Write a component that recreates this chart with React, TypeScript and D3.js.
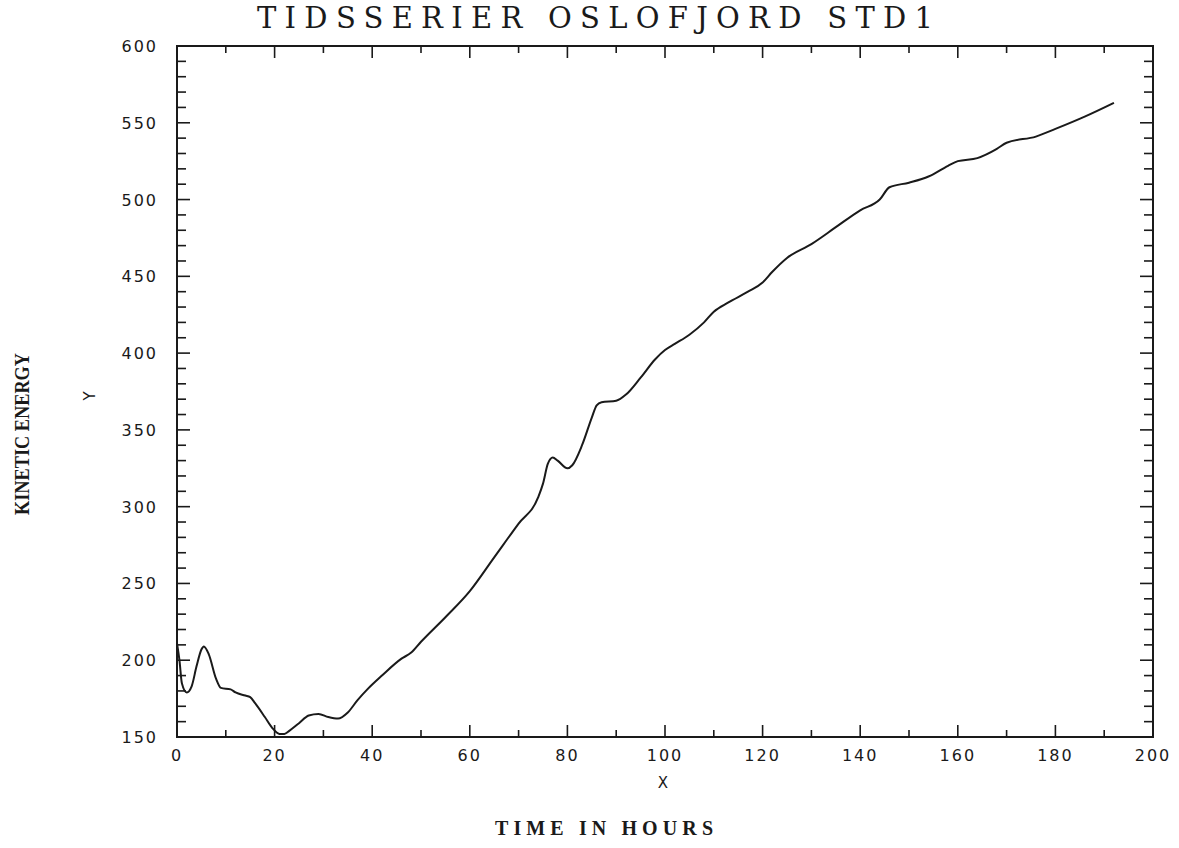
import React from "react";
import * as d3 from "d3";

const hours = [0, 0.5, 1, 2, 3, 4, 5, 5.5, 6.5, 8, 9, 11, 12, 14, 15, 16, 18, 19.5, 21, 22, 23, 25, 27, 29, 31, 33, 35, 37, 39, 42, 46, 48, 50, 55, 60, 65, 70, 74, 75, 76, 77, 78, 80, 81, 83, 85, 86, 87, 90, 92, 95, 98, 100, 102, 105, 108, 110, 113, 117, 120, 122, 125, 130, 135, 140, 144, 146, 150, 154, 158, 160, 164, 168, 170, 176, 180, 186, 192];
const energy = [211, 200, 185, 179, 183, 196, 207, 209, 204, 188, 182, 181, 179, 177, 176, 172, 163, 156, 152, 152, 154, 159, 164, 165, 163, 162, 166, 174, 181, 190, 201, 205, 212, 228, 245, 267, 289, 306, 315, 328, 332, 330, 325, 327, 340, 358, 366, 368, 369, 373, 384, 396, 402, 406, 412, 420, 427, 433, 440, 446, 453, 462, 471, 482, 493, 500, 508, 511, 515, 522, 525, 527, 533, 537, 541, 546, 554, 563];

const xTickLabels = [0, 20, 40, 60, 80, 100, 120, 140, 160, 180, 200];
const yTickLabels = [150, 200, 250, 300, 350, 400, 450, 500, 550, 600];

const titleText = "TIDSSERIER OSLOFJORD STD1";
const xAxisName = "X";
const yAxisName = "Y";
const xTitle = "TIME IN HOURS";
const yTitle = "KINETIC ENERGY";

export default function App() {
  const W = 1179, H = 848;
  const left = 177, right = 1153, top = 46, bottom = 737;
  const x = d3.scaleLinear().domain([0, 200]).range([left, right]);
  const y = d3.scaleLinear().domain([150, 600]).range([bottom, top]);
  const pts = hours.map((h, i) => [h, energy[i]] as [number, number]);
  const line = d3.line<[number, number]>().x(d => x(d[0])).y(d => y(d[1])).curve(d3.curveMonotoneX);

  const xMinor = d3.range(0, 201, 10);
  const yMinor = d3.range(150, 601, 10);
  const ink = "#1a1a1a";

  return (
    <svg width={W} height={H} style={{ position: "absolute", left: 0, top: 0, display: "block", background: "#fff" }}>
      <text x={595} y={28} textAnchor="middle" fontFamily="DejaVu Serif" fontSize={29} fill={ink}
        textLength={676} lengthAdjust="spacing">{titleText}</text>
      <rect x={left} y={top} width={right - left} height={bottom - top} fill="none" stroke={ink} strokeWidth={2} />
      {xMinor.map(v => {
        const major = v % 20 === 0;
        const len = major ? 12 : 7;
        return (
          <g key={"xt" + v}>
            <line x1={x(v)} x2={x(v)} y1={bottom} y2={bottom - len} stroke={ink} strokeWidth={1.6} />
            <line x1={x(v)} x2={x(v)} y1={top} y2={top + len} stroke={ink} strokeWidth={1.6} />
          </g>
        );
      })}
      {yMinor.map(v => {
        const major = v % 50 === 0;
        const len = major ? 13 : 9;
        return (
          <g key={"yt" + v}>
            <line x1={left} x2={left + len} y1={y(v)} y2={y(v)} stroke={ink} strokeWidth={1.6} />
            <line x1={right} x2={right - len} y1={y(v)} y2={y(v)} stroke={ink} strokeWidth={1.6} />
          </g>
        );
      })}
      {xTickLabels.map(v => (
        <text key={"xl" + v} x={x(v)} y={761} textAnchor="middle" fontFamily="DejaVu Sans" fontSize={16}
          letterSpacing={2} fill={ink}>{v}</text>
      ))}
      {yTickLabels.map(v => (
        <text key={"yl" + v} x={158} y={y(v) + 6} textAnchor="end" fontFamily="DejaVu Sans" fontSize={16}
          letterSpacing={2} fill={ink}>{v}</text>
      ))}
      <text x={663} y={788} textAnchor="middle" fontFamily="DejaVu Sans" fontSize={15} fill={ink}>{xAxisName}</text>
      <text transform={`translate(95,396) rotate(-90)`} textAnchor="middle" fontFamily="DejaVu Sans" fontSize={15} fill={ink}>{yAxisName}</text>
      <text x={604} y={835} textAnchor="middle" fontFamily="Liberation Serif" fontSize={20} fontWeight="bold" fill={ink}
        textLength={218} lengthAdjust="spacing">{xTitle}</text>
      <text transform={`translate(29,434) rotate(-90)`} textAnchor="middle" fontFamily="Liberation Serif" fontSize={21}
        fontWeight="bold" fill={ink} textLength={162} lengthAdjust="spacingAndGlyphs">{yTitle}</text>
      <path d={line(pts) || ""} fill="none" stroke={ink} strokeWidth={2} strokeLinejoin="round" />
    </svg>
  );
}
